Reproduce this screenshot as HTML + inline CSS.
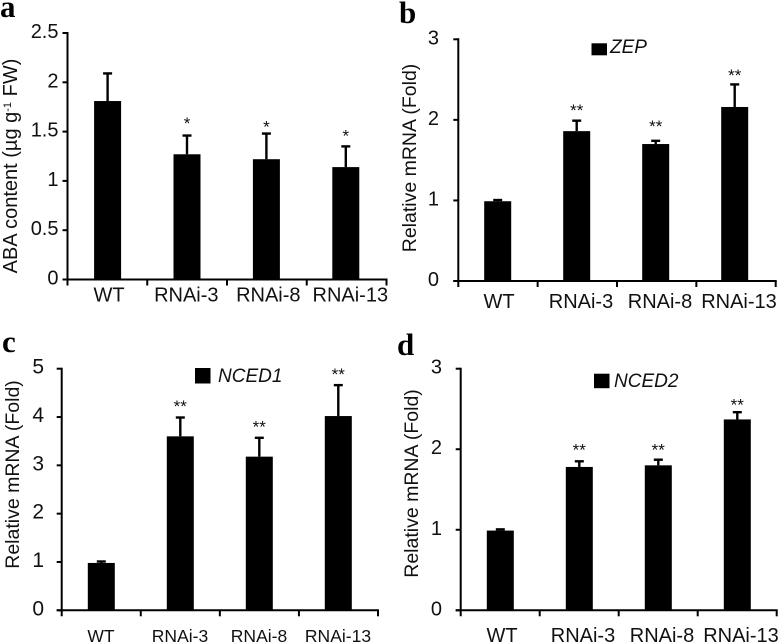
<!DOCTYPE html>
<html lang="en">
<head>
<meta charset="utf-8">
<title>ABA content and relative mRNA levels</title>
<style>
html,body{margin:0;padding:0;background:#fff;width:779px;height:643px;overflow:hidden}
svg{display:block;filter:blur(0.35px)}
text{font-family:"Liberation Sans",Arial,sans-serif;fill:#111}
</style>
</head>
<body>
<svg id="figure" width="779" height="643" viewBox="0 0 779 643" xmlns="http://www.w3.org/2000/svg"></svg>
<script>
const categories = ['WT', 'RNAi-3', 'RNAi-8', 'RNAi-13'];

const aValues = [1.81, 1.27, 1.22, 1.14];
const aErrorTops = [2.09, 1.46, 1.48, 1.35];
const aMarks = ['', '*', '*', '*'];
const aMarkLevels = [0, 1.61, 1.57, 1.48];
const aTicks = [0, 0.5, 1, 1.5, 2, 2.5];

const bValues = [0.99, 1.86, 1.70, 2.16];
const bErrorTops = [1.005, 1.99, 1.74, 2.44];
const bMarks = ['', '**', '**', '**'];
const bMarkLevels = [0, 2.15, 1.95, 2.58];
const bTicks = [0, 1, 2, 3];

const cValues = [0.98, 3.60, 3.18, 4.02];
const cErrorTops = [1.01, 3.99, 3.57, 4.66];
const cMarks = ['', '**', '**', '**'];
const cMarkLevels = [0, 4.27, 3.85, 4.93];
const cTicks = [0, 1, 2, 3, 4, 5];

const dValues = [0.99, 1.78, 1.80, 2.37];
const dErrorTops = [1.005, 1.85, 1.87, 2.46];
const dMarks = ['', '**', '**', '**'];
const dMarkLevels = [0, 2.02, 2.02, 2.58];
const dTicks = [0, 1, 2, 3];

const svg = document.getElementById('figure');
const NS = 'http://www.w3.org/2000/svg';

function mk(tag, attrs, parent, content) {
  const el = document.createElementNS(NS, tag);
  for (const k in attrs) el.setAttribute(k, attrs[k]);
  if (content !== undefined) el.textContent = content;
  parent.appendChild(el);
  return el;
}

function drawPanel(p) {
  const g = mk('g', {}, svg);
  
  

  const maxV = p.ticks[p.ticks.length - 1];
  const yOf = v => p.y0 - (v / maxV) * (p.y0 - p.yTop);
  const xOf = i => p.barX0 + i * p.barStep;
  const segment = (p.xEnd - p.axisX) / categories.length;

  const letter = mk('text', {x: p.letterX, y: p.letterY, 'font-size': 31, 'font-weight': 700, style: 'font-family:"Liberation Serif",serif;fill:#000'}, g, p.id);
  
  

  p.values.forEach((v, i) => {
    const cx = xOf(i);
    const stem = mk('line', {x1: cx, x2: cx, y1: yOf(v), y2: yOf(p.errorTops[i]), stroke: '#000', 'stroke-width': 2.4}, g);
    
    

    const cap = mk('line', {x1: cx - 4.5, x2: cx + 4.5, y1: yOf(p.errorTops[i]), y2: yOf(p.errorTops[i]), stroke: '#000', 'stroke-width': 2.4}, g);
    
    

    const bar = mk('rect', {x: cx - 13.5, y: yOf(v), width: 27, height: p.y0 - yOf(v), fill: '#000'}, g);
    
    

    if (p.marks[i]) {
      const mark = mk('text', {x: cx, y: yOf(p.markLevels[i]) + 8, 'font-size': 17, 'text-anchor': 'middle'}, g, p.marks[i]);
      
      
    }

    const label = mk('text', {x: p.labelX0 + i * p.labelStep + (i === 0 ? p.wtShift : 0), y: p.labelY, 'font-size': p.labelSize, 'text-anchor': 'middle'}, g, categories[i]);
    
    
  });

  const yAxis = mk('line', {x1: p.axisX, x2: p.axisX, y1: p.yTop - 1, y2: p.y0 + 6, stroke: '#000', 'stroke-width': 2}, g);
  
  

  const xAxis = mk('line', {x1: p.axisX - 5, x2: p.xEnd + 1, y1: p.y0, y2: p.y0, stroke: '#000', 'stroke-width': 2}, g);
  
  

  categories.forEach((c, i) => {
    const tx = p.axisX + (i + 1) * segment;
    const tick = mk('line', {x1: tx, x2: tx, y1: p.y0, y2: p.y0 + 6, stroke: '#000', 'stroke-width': 2}, g);
    
    
  });

  p.ticks.forEach(t => {
    const tick = mk('line', {x1: p.axisX - 5, x2: p.axisX, y1: yOf(t), y2: yOf(t), stroke: '#000', 'stroke-width': 2}, g);
    
    

    const label = mk('text', {x: p.tickLabelX, y: yOf(t) + 5, 'font-size': p.tickSize, 'text-anchor': 'end'}, g, String(t));
    
    
  });

  const title = mk('text', {transform: 'translate(' + p.titleX + ',' + p.titleCy + ') rotate(-90)', 'font-size': p.titleSize, 'text-anchor': 'middle'}, g);
  
  
  if (p.id === 'a') {
    title.textContent = 'ABA content (µg g';
    mk('tspan', {'font-size': 11, dy: -6}, title, '-1');
    mk('tspan', {dy: 6}, title, ' FW)');
  } else {
    title.textContent = 'Relative mRNA (Fold)';
  }

  if (p.legend) {
    const swatch = mk('rect', {x: p.legendX, y: p.legendY, width: 15.5, height: p.legendH, fill: '#000'}, g);
    
    

    const legendText = mk('text', {x: p.legendTextX, y: p.legendTextY, 'font-size': 19, 'font-style': 'italic'}, g, p.legend);
    
    
  }
}

drawPanel({id: 'a', values: aValues, errorTops: aErrorTops, marks: aMarks, markLevels: aMarkLevels, ticks: aTicks,
  axisX: 67.5, xEnd: 386.5, y0: 279.5, yTop: 33, barX0: 107.6, barStep: 79.4,
  labelX0: 104.3, labelStep: 82, wtShift: 4.7, labelY: 301.5, labelSize: 20, tickLabelX: 58.5, tickSize: 20,
  titleX: 17, titleCy: 166, titleSize: 20, letterX: 0, letterY: 17});

drawPanel({id: 'b', values: bValues, errorTops: bErrorTops, marks: bMarks, markLevels: bMarkLevels, ticks: bTicks,
  axisX: 458.3, xEnd: 775.7, y0: 281, yTop: 39.3, barX0: 497.7, barStep: 79,
  labelX0: 502, labelStep: 79, wtShift: -3, labelY: 308, labelSize: 20, tickLabelX: 439, tickSize: 20,
  titleX: 416, titleCy: 158, titleSize: 19.5, letterX: 399, letterY: 23,
  legend: 'ZEP', legendX: 591.5, legendY: 43.3, legendH: 12, legendTextX: 610, legendTextY: 53});

drawPanel({id: 'c', values: cValues, errorTops: cErrorTops, marks: cMarks, markLevels: cMarkLevels, ticks: cTicks,
  axisX: 61.7, xEnd: 378, y0: 610.3, yTop: 368.7, barX0: 101.3, barStep: 79,
  labelX0: 101, labelStep: 79, wtShift: 0, labelY: 642, labelSize: 17.5, tickLabelX: 44, tickSize: 21,
  titleX: 19, titleCy: 474.5, titleSize: 19.5, letterX: 2, letterY: 352,
  legend: 'NCED1', legendX: 195, legendY: 368, legendH: 15.5, legendTextX: 218, legendTextY: 382});

drawPanel({id: 'd', values: dValues, errorTops: dErrorTops, marks: dMarks, markLevels: dMarkLevels, ticks: dTicks,
  axisX: 460.7, xEnd: 776.7, y0: 610.3, yTop: 368.7, barX0: 500.3, barStep: 79,
  labelX0: 504, labelStep: 79, wtShift: -2, labelY: 642, labelSize: 20, tickLabelX: 442, tickSize: 20,
  titleX: 418, titleCy: 483.5, titleSize: 19.5, letterX: 397, letterY: 355,
  legend: 'NCED2', legendX: 594, legendY: 373.7, legendH: 14.5, legendTextX: 614, legendTextY: 387});
</script>
</body>
</html>
